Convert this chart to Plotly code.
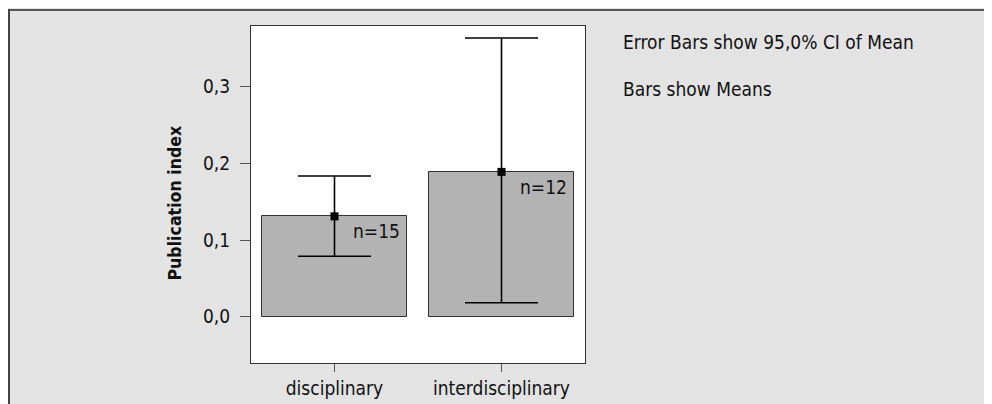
import plotly.graph_objects as go

categories = ["disciplinary", "interdisciplinary"]
means = [0.131, 0.189]
ci_upper = [0.1836, 0.3637]
ci_lower = [0.0790, 0.0182]
n_labels = ["n=15", "n=12"]
y_ticks = [0.0, 0.1, 0.2, 0.3]
y_tick_labels = ["0,0", "0,1", "0,2", "0,3"]

# page offset caused by the default body margin of the html page
OFF = 8
W, H = 984, 404
L, R, T, B = 243, 407, 18, 49
pw = W - L - R
ph = H - T - B

FONT = "DejaVu Sans Condensed, Liberation Sans Narrow, sans-serif"
DARK = "#333333"
TXT = "#111111"

def px2x(page_px):
    return (page_px - OFF - L) / pw

def px2y(page_py):
    return (H - B - (page_py - OFF)) / ph

xi = list(range(len(categories)))

fig = go.Figure()
fig.add_trace(go.Bar(
    x=xi, y=means, width=0.87,
    marker=dict(color="#b3b3b3", line=dict(color=DARK, width=1)),
    hoverinfo="skip", showlegend=False,
))
fig.add_trace(go.Scatter(
    x=xi, y=means, mode="markers",
    marker=dict(symbol="square", size=8, color="black"),
    error_y=dict(
        type="data", symmetric=False,
        array=[u - m for u, m in zip(ci_upper, means)],
        arrayminus=[m - l for l, m in zip(ci_lower, means)],
        color="black", thickness=1.6, width=36.5,
    ),
    showlegend=False,
))

annotations = []
for i, (m, lab) in enumerate(zip(means, n_labels)):
    annotations.append(dict(
        x=i + 0.435, y=m, xref="x", yref="y", text=lab, showarrow=False,
        xanchor="right", yanchor="top", xshift=-5, yshift=-2,
        font=dict(family=FONT, size=19, color=TXT),
    ))
annotations.append(dict(
    x=px2x(175), y=px2y(203.5), xref="paper", yref="paper", text="<b>Publication index</b>",
    textangle=-90, showarrow=False, xanchor="center", yanchor="middle",
    font=dict(family=FONT, size=17.6, color=TXT),
))
annotations.append(dict(
    x=px2x(621), y=px2y(41.7), xref="paper", yref="paper",
    text="Error Bars show 95,0% CI of Mean", showarrow=False,
    xanchor="left", yanchor="middle",
    font=dict(family=FONT, size=19, color=TXT),
))
annotations.append(dict(
    x=px2x(621), y=px2y(89.3), xref="paper", yref="paper",
    text="Bars show Means", showarrow=False,
    xanchor="left", yanchor="middle",
    font=dict(family=FONT, size=19, color=TXT),
))

shapes = [
    # white plot area
    dict(type="rect", xref="paper", yref="paper", x0=0, x1=1, y0=0, y1=1,
         fillcolor="white", line=dict(width=0), layer="below"),
    # outer frame lines (top and left)
    dict(type="line", xref="paper", yref="paper", x0=px2x(8), x1=px2x(OFF + W),
         y0=px2y(10), y1=px2y(10), line=dict(color="#555555", width=2), layer="below"),
    dict(type="line", xref="paper", yref="paper", x0=px2x(9), x1=px2x(9),
         y0=px2y(9), y1=px2y(OFF + H), line=dict(color="#444444", width=2), layer="below"),
]

fig.update_layout(
    width=W, height=H,
    margin=dict(l=L, r=R, t=T, b=B, pad=0),
    paper_bgcolor="#e3e3e3",
    plot_bgcolor="rgba(0,0,0,0)",
    font=dict(family=FONT, size=19, color=TXT),
    annotations=annotations,
    shapes=shapes,
    bargap=0,
    xaxis=dict(
        range=[-0.5, 1.5], tickmode="array", tickvals=xi, ticktext=categories,
        showline=True, linecolor=DARK, linewidth=1, mirror=True,
        ticks="outside", ticklen=8, tickcolor="#555555", tickwidth=1,
        showgrid=False, zeroline=False, fixedrange=True,
        tickfont=dict(family=FONT, size=19, color=TXT),
    ),
    yaxis=dict(
        range=[-0.0603, 0.3793], tickmode="array", tickvals=y_ticks, ticktext=y_tick_labels,
        showline=True, linecolor=DARK, linewidth=1, mirror=True,
        ticks="outside", ticklen=10, tickcolor="#555555", tickwidth=1,
        showgrid=False, zeroline=False, fixedrange=True,
        ticklabelstandoff=6,
        tickfont=dict(family=FONT, size=19, color=TXT),
    ),
)

fig.write_html("out.html")
